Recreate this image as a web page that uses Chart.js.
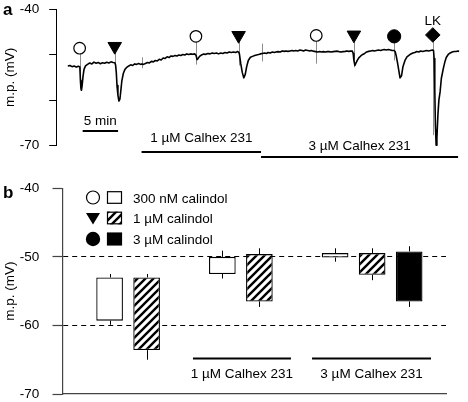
<!DOCTYPE html>
<html><head><meta charset="utf-8">
<script src="https://cdn.jsdelivr.net/npm/chart.js@4/dist/chart.umd.min.js"></script>
<style>
html,body{margin:0;padding:0;background:#fff;}
#wrap{position:relative;width:468px;height:402px;overflow:hidden;background:#fff;}
canvas{position:absolute;left:0;}
#ca{top:0;}
#cb{top:168px;}
</style></head><body>
<div id="wrap">
<canvas id="ca" width="468" height="168"></canvas>
<canvas id="cb" width="468" height="234"></canvas>
</div>
<script>
// ===== Panel a: membrane potential trace =====
const traceMinutes = [0,0.3,0.6,0.9,1.2,1.5,1.7,1.78,1.85,1.92,2.01,2.15,2.29,2.5,2.78,3.1,3.4,3.7,4.0,4.3,4.6,4.9,5.2,5.5,5.8,6.1,6.4,6.65,6.75,6.85,6.95,7.08,7.22,7.36,7.5,7.64,7.85,8.06,8.33,8.61,8.89,9.17,9.44,9.72,10.0,10.28,10.46,10.69,10.97,11.25,11.53,11.81,12.08,12.36,12.64,12.92,13.19,13.47,13.75,14.03,14.31,14.58,14.86,15.14,15.42,15.69,15.97,16.25,16.53,16.81,17.08,17.36,17.64,17.92,18.13,18.26,18.4,18.61,18.89,19.2,19.5,19.8,20.1,20.4,20.7,21.0,21.3,21.6,21.9,22.2,22.5,22.8,23.1,23.4,23.7,24.0,24.15,24.25,24.43,24.65,24.86,25.07,25.28,25.5,25.8,26.1,26.4,26.67,26.94,27.2,27.5,27.8,28.06,28.3,28.6,28.9,29.2,29.4,29.7,30.0,30.3,30.6,30.8,31.1,31.4,31.7,31.9,32.2,32.5,32.8,33.1,33.3,33.6,33.9,34.2,34.4,34.7,35.0,35.3,35.6,35.8,36.1,36.4,36.7,36.9,37.2,37.5,37.8,38.1,38.3,38.6,38.9,39.2,39.4,39.7,40.0,40.2,40.32,40.42,40.56,40.69,40.9,41.11,41.39,41.67,41.94,42.22,42.5,42.8,43.1,43.3,43.6,43.9,44.2,44.4,44.7,45.0,45.3,45.6,45.8,46.1,46.25,46.39,46.6,46.81,46.94,47.15,47.36,47.64,47.92,48.19,48.47,48.75,49.03,49.31,49.58,49.86,50.14,50.42,50.69,50.97,51.25,51.53,51.67,51.76,51.85,51.94,52.04,52.15,52.29,52.43,52.6,52.78,53.06,53.26,53.47,53.75,54.03,54.31,54.58,54.86,55.14,55.28];
const traceMv = [-52.5,-52.4,-52.65,-52.5,-52.75,-52.55,-52.7,-55.66,-57.4,-57.84,-56.97,-54.78,-53.25,-52.49,-52.16,-51.85,-52.05,-51.65,-51.9,-51.75,-52.0,-51.8,-51.9,-51.7,-51.85,-51.6,-51.75,-51.8,-52.3,-53.9,-56.8,-58.9,-60.2,-59.8,-57.8,-55.7,-54.1,-53.3,-52.8,-52.5,-52.25,-52.4,-52.05,-52.15,-51.95,-52.15,-52.05,-52.15,-51.95,-51.75,-51.85,-51.5,-51.6,-51.3,-51.4,-51.05,-51.2,-50.75,-50.85,-50.5,-50.65,-50.3,-50.4,-50.2,-50.3,-50.1,-50.2,-50.0,-50.1,-49.85,-50.0,-49.85,-49.95,-49.85,-50.2,-51.1,-50.9,-50.4,-50.1,-49.9,-49.95,-49.75,-49.85,-49.65,-49.75,-49.65,-49.85,-49.65,-49.75,-49.55,-49.65,-49.45,-49.55,-49.45,-49.55,-49.35,-49.5,-49.9,-51.94,-53.91,-55.11,-54.34,-52.6,-51.3,-50.6,-50.4,-50.2,-50.1,-50.0,-49.85,-49.75,-49.65,-49.75,-49.55,-49.65,-49.45,-49.55,-49.45,-49.35,-49.45,-49.2,-49.3,-49.2,-49.3,-49.2,-49.1,-49.2,-49.1,-49.2,-49.0,-49.1,-49.2,-49.0,-49.1,-49.2,-49.1,-49.25,-49.35,-49.45,-49.35,-49.45,-49.35,-49.45,-49.35,-49.35,-49.45,-49.35,-49.3,-49.25,-49.35,-49.45,-49.35,-49.3,-49.2,-49.3,-49.2,-49.25,-49.76,-51.29,-52.38,-51.94,-51.29,-50.74,-50.31,-49.98,-49.76,-49.43,-49.3,-49.2,-49.1,-49.2,-49.1,-49.0,-49.1,-49.0,-48.9,-49.0,-48.9,-49.0,-49.1,-49.1,-49.32,-50.2,-51.94,-53.91,-55.11,-54.67,-52.6,-51.29,-50.52,-50.2,-49.87,-49.65,-49.54,-49.32,-49.43,-49.21,-49.32,-49.21,-49.1,-49.21,-49.1,-49.0,-49.1,-50.85,-57.84,-65.5,-69.9,-68.3,-63.3,-60.0,-58.2,-55.2,-53.03,-51.7,-50.63,-49.98,-49.65,-49.43,-49.32,-49.32,-49.21,-49.32];

// agonist applications (markers above the trace)
const eventMinutes   = [1.67, 6.63, 18.1, 24.13, 35.1, 40.42, 46.11, 51.57];
const eventKinds     = ['open','tri','open','tri','open','tri','filled','lk'];
const eventMarkerMv  = [-48.6, -48.2, -46.0, -45.8, -45.8, -45.7, -46.0, -45.7];
const eventStemEndMv = [-54.6, -52.0, -52.2, -52.4, -52.0, -52.8, -51.3, -67.7];
// solution-change artifacts
const artifactMinutes  = [10.46, 27.46];
const artifactTopMv    = [-50.6, -47.6];
const artifactBottomMv = [-53.0, -51.5];
// 5 min time scale bar
const scaleBarMinutes = [2.1, 7.1];
// Calhex 231 application periods
const calhexLabelsA  = ['1 µM Calhex 231', '3 µM Calhex 231'];
const calhexStartMin = [10.42, 27.3];
const calhexEndMin   = [27.3, 55.14];
const yTicksA = [-40, -50, -60, -70];

// ===== Panel b: summary bars =====
const groups = ['control', '1 µM Calhex 231', '3 µM Calhex 231'];
const seriesNames = ['300 nM calindol', '1 µM calindol', '3 µM calindol'];
const cal300Top     = [-53.0, -50.0, -49.45];
const cal300Bottom  = [-59.3, -52.5, -50.1];
const cal300ErrHigh = [-52.5, -49.1, -48.75];
const cal300ErrLow  = [-59.9, -53.15, -50.7];
const cal1Top       = [-53.0, -49.6, -49.45];
const cal1Bottom    = [-63.6, -56.5, -52.6];
const cal1ErrHigh   = [-52.5, -48.75, -48.75];
const cal1ErrLow    = [-65.0, -57.3, -53.4];
const cal3Top       = [null, null, -49.2];
const cal3Bottom    = [null, null, -56.5];
const cal3ErrHigh   = [null, null, -48.45];
const cal3ErrLow    = [null, null, -57.3];
const yTicksB = [-40, -50, -60, -70];
const dashedLevels = [-50, -60];

const FONT = '"Liberation Sans", Arial, Helvetica, sans-serif';
Chart.defaults.font.family = FONT;
Chart.defaults.font.size = 13.5;
Chart.defaults.color = '#000';

function font(sz, bold){ return (bold ? 'bold ' : '') + sz + 'px ' + FONT; }
function noEdgePadding(s){ s.paddingTop = 0; s.paddingBottom = 0; }

// ---------- Panel a ----------
const annotA = {
  id: 'annotA',
  beforeDatasetsDraw(chart) {
    const {ctx, scales: {x, y}} = chart;
    ctx.save();
    ctx.strokeStyle = '#8c8c8c';
    ctx.lineWidth = 1;
    eventMinutes.forEach((t, i) => {
      const px = Math.round(x.getPixelForValue(t)) + 0.5;
      ctx.beginPath();
      ctx.moveTo(px, y.getPixelForValue(eventMarkerMv[i]));
      ctx.lineTo(px, y.getPixelForValue(eventStemEndMv[i]));
      ctx.stroke();
    });
    artifactMinutes.forEach((t, i) => {
      const px = Math.round(x.getPixelForValue(t)) + 0.5;
      ctx.beginPath();
      ctx.moveTo(px, y.getPixelForValue(artifactTopMv[i]));
      ctx.lineTo(px, y.getPixelForValue(artifactBottomMv[i]));
      ctx.stroke();
    });
    ctx.restore();
  },
  afterDraw(chart) {
    const {ctx, scales: {x, y}} = chart;
    ctx.save();
    ctx.fillStyle = '#000';
    ctx.font = font(17, true);
    ctx.textAlign = 'left'; ctx.textBaseline = 'alphabetic';
    ctx.fillText('a', 3, 15);
    ctx.font = font(13.5);
    ctx.textAlign = 'center';
    const lkIdx = eventKinds.indexOf('lk');
    ctx.fillText('LK', x.getPixelForValue(eventMinutes[lkIdx]), 25);
    const s1 = x.getPixelForValue(scaleBarMinutes[0]), s2 = x.getPixelForValue(scaleBarMinutes[1]);
    ctx.fillRect(s1, 130, s2 - s1, 2);
    ctx.fillText((scaleBarMinutes[1] - scaleBarMinutes[0]) + ' min', (s1 + s2) / 2, 125);
    const barY = [151, 156];
    const textY = [141.7, 150];
    calhexLabelsA.forEach((lab, i) => {
      const a = x.getPixelForValue(calhexStartMin[i]), b = x.getPixelForValue(calhexEndMin[i]);
      ctx.fillRect(a, barY[i], b - a, 2);
      ctx.fillText(lab, (a + b) / 2, textY[i]);
    });
    ctx.restore();
  }
};

function markerData(kind) {
  const out = [];
  eventKinds.forEach((k, i) => { if (k === kind) out.push({x: eventMinutes[i], y: eventMarkerMv[i]}); });
  return out;
}

new Chart(document.getElementById('ca'), {
  type: 'line',
  data: {
    datasets: [
      {label: 'open', data: markerData('open'), showLine: false, pointStyle: 'circle', pointRadius: 5.8,
       pointBackgroundColor: '#fff', pointBorderColor: '#000', pointBorderWidth: 1.2, order: 0, clip: false},
      {label: 'tri', data: markerData('tri'), showLine: false, pointStyle: 'triangle', pointRotation: 180, pointRadius: 7.8,
       pointBackgroundColor: '#000', pointBorderColor: '#000', pointBorderWidth: 1, order: 0, clip: false},
      {label: 'filled', data: markerData('filled'), showLine: false, pointStyle: 'circle', pointRadius: 6.6,
       pointBackgroundColor: '#000', pointBorderColor: '#000', pointBorderWidth: 1, order: 0, clip: false},
      {label: 'lk', data: markerData('lk'), showLine: false, pointStyle: 'rectRot', pointRadius: 7.3,
       pointBackgroundColor: '#000', pointBorderColor: '#000', pointBorderWidth: 1, order: 0, clip: false},
      {label: 'm.p.', data: traceMinutes.map((t, i) => ({x: t, y: traceMv[i]})), borderColor: '#000', borderWidth: 1.6,
       pointRadius: 0, tension: 0, order: 1, clip: false, borderJoinStyle: 'round'}
    ]
  },
  options: {
    responsive: false, animation: false, devicePixelRatio: 1,
    layout: {padding: {top: 9, bottom: 22.3, left: 0, right: 2}},
    plugins: {legend: {display: false}, tooltip: {enabled: false}},
    scales: {
      x: {type: 'linear', display: false, min: -1.57, max: 55.3},
      y: {
        type: 'linear', min: -70, max: -40,
        afterFit(s) { s.width = 56.7; noEdgePadding(s); },
        afterBuildTicks(s) { s.ticks = yTicksA.map(v => ({value: v})); },
        ticks: {callback: v => (v === -40 || v === -70) ? String(v) : '', padding: 9.9, color: '#000', font: {size: 13.5}},
        grid: {display: true, drawOnChartArea: false, drawTicks: true, tickLength: 7.5, tickColor: '#000', tickWidth: 1},
        border: {display: true, color: '#000', width: 1},
        title: {display: true, text: 'm.p. (mV)', padding: {top: 2, bottom: 0}, color: '#000', font: {size: 13.5}}
      }
    }
  },
  plugins: [annotA]
});

// ---------- Panel b ----------
const cbCtx = document.getElementById('cb').getContext('2d');
function makeHatch() {
  const c = document.createElement('canvas');
  c.width = 8; c.height = 8;
  const g = c.getContext('2d');
  g.fillStyle = '#fff'; g.fillRect(0, 0, 8, 8);
  g.strokeStyle = '#000'; g.lineWidth = 2.4;
  g.beginPath();
  g.moveTo(-1, 9); g.lineTo(9, -1);
  g.moveTo(-3, 3); g.lineTo(3, -3);
  g.moveTo(5, 11); g.lineTo(11, 5);
  g.stroke();
  return cbCtx.createPattern(c, 'repeat');
}
const hatch = makeHatch();
const fills = ['#ffffff', hatch, '#000000'];
const seriesTop = [cal300Top, cal1Top, cal3Top];
const seriesBottom = [cal300Bottom, cal1Bottom, cal3Bottom];
const seriesErrHigh = [cal300ErrHigh, cal1ErrHigh, cal3ErrHigh];
const seriesErrLow = [cal300ErrLow, cal1ErrLow, cal3ErrLow];
const legendMarkers = ['open', 'tri', 'filled'];

const annotB = {
  id: 'annotB',
  afterDatasetsDraw(chart) {
    const {ctx, scales: {y}} = chart;
    ctx.save();
    ctx.strokeStyle = '#000'; ctx.lineWidth = 1;
    chart.data.datasets.forEach((ds, k) => {
      const meta = chart.getDatasetMeta(k);
      meta.data.forEach((el, j) => {
        const gi = ds.data[j].x;
        const px = Math.round(el.x) + 0.5;
        const top = Math.min(el.y, el.base), bot = Math.max(el.y, el.base);
        ctx.beginPath();
        ctx.moveTo(px, top); ctx.lineTo(px, y.getPixelForValue(seriesErrHigh[k][gi]));
        ctx.moveTo(px, bot); ctx.lineTo(px, y.getPixelForValue(seriesErrLow[k][gi]));
        ctx.stroke();
      });
    });
    ctx.restore();
  },
  afterDraw(chart) {
    const {ctx, scales: {x}} = chart;
    ctx.save();
    ctx.fillStyle = '#000';
    ctx.font = font(17, true);
    ctx.textAlign = 'left'; ctx.textBaseline = 'alphabetic';
    ctx.fillText('b', 3, 30.3);
    const rowY = [29.5, 50, 71];
    ctx.font = font(13.5);
    seriesNames.forEach((name, k) => {
      const yc = rowY[k];
      const mk = legendMarkers[k];
      ctx.strokeStyle = '#000'; ctx.lineWidth = 1.2;
      if (mk === 'open') {
        ctx.beginPath(); ctx.arc(93, yc, 6.5, 0, Math.PI * 2);
        ctx.fillStyle = '#fff'; ctx.fill(); ctx.stroke();
      } else if (mk === 'filled') {
        ctx.beginPath(); ctx.arc(93, yc, 7.2, 0, Math.PI * 2);
        ctx.fillStyle = '#000'; ctx.fill();
      } else {
        ctx.beginPath(); ctx.moveTo(86, yc - 5); ctx.lineTo(100, yc - 5); ctx.lineTo(93, yc + 6.5); ctx.closePath();
        ctx.fillStyle = '#000'; ctx.fill();
      }
      ctx.fillStyle = fills[k];
      ctx.fillRect(107, yc - 6.3, 15, 12.6);
      ctx.strokeRect(107.5, yc - 5.8, 14, 11.6);
      ctx.fillStyle = '#000';
      ctx.fillText(name, 133, yc + 5);
    });
    const spans = {1: [-0.589, 0.280], 2: [-0.533, 0.522]};
    ctx.textAlign = 'center';
    [1, 2].forEach(gi => {
      const a = x.getPixelForValue(gi + spans[gi][0]), b = x.getPixelForValue(gi + spans[gi][1]);
      ctx.fillRect(a, 189.5, b - a, 2);
      ctx.fillText(groups[gi], (a + b) / 2, 209.5);
    });
    ctx.restore();
  }
};

new Chart(cbCtx, {
  type: 'bar',
  data: {
    datasets: seriesNames.map((name, k) => ({
      label: name,
      data: groups.map((g, i) => seriesTop[k][i] == null ? null : {x: i, y: [seriesBottom[k][i], seriesTop[k][i]]}).filter(Boolean),
      backgroundColor: fills[k], borderColor: '#000', borderWidth: 1.3, borderSkipped: false,
      categoryPercentage: 0.985, barPercentage: 0.72
    }))
  },
  options: {
    responsive: false, animation: false, devicePixelRatio: 1,
    layout: {padding: {top: 20.3, bottom: 8, left: 0, right: 22}},
    plugins: {legend: {display: false}, tooltip: {enabled: false}},
    scales: {
      x: {
        type: 'linear', min: -0.746, max: 2.655, offset: false,
        afterBuildTicks(s) { s.ticks = groups.map((g, i) => ({value: i})); },
        afterFit(s) { s.height = 0; s.paddingLeft = 0; s.paddingRight = 0; },
        ticks: {display: false}, grid: {display: false, offset: false},
        border: {display: true, color: '#444', width: 1.2}
      },
      y: {
        type: 'linear', min: -70, max: -40,
        afterFit(s) { s.width = 62.5; noEdgePadding(s); },
        afterBuildTicks(s) { s.ticks = yTicksB.map(v => ({value: v})); },
        ticks: {padding: 13.2, color: '#000', font: {size: 13.5}},
        grid: {
          display: true, drawOnChartArea: true, drawTicks: true, tickLength: 10, tickColor: '#444', tickWidth: 1.2,
          color: c => (c.tick && dashedLevels.includes(c.tick.value)) ? '#000' : 'rgba(0,0,0,0)', lineWidth: 1
        },
        border: {display: true, color: '#444', width: 1.2, dash: [5, 4]},
        title: {display: true, text: 'm.p. (mV)', padding: {top: 2, bottom: 0}, color: '#000', font: {size: 13.5}}
      }
    }
  },
  plugins: [annotB]
});
</script>
</body></html>
